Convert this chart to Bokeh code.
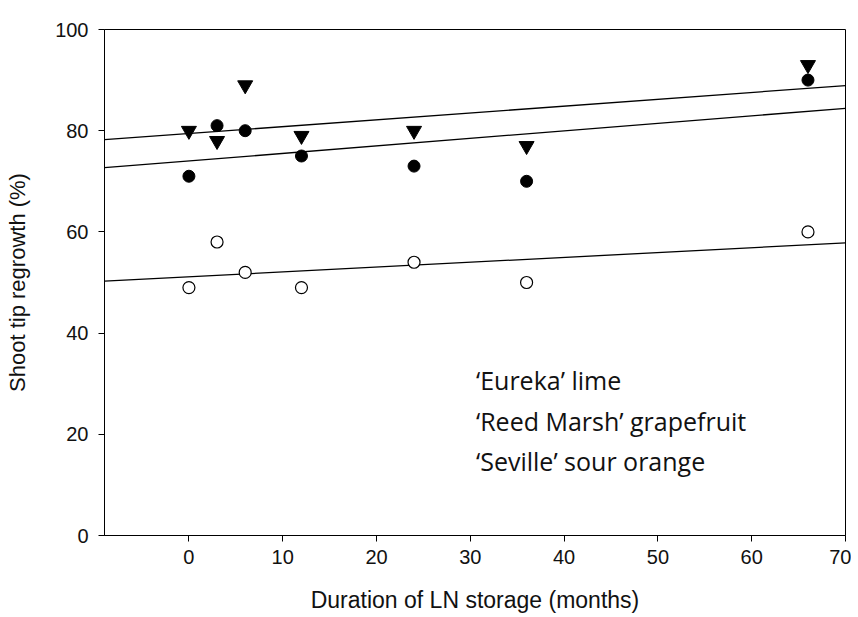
import numpy as np
from bokeh.plotting import figure
from bokeh.models import Range1d, FixedTicker, Label
from bokeh.embed import file_html
from bokeh.resources import INLINE

# Data
months = [0, 3, 6, 12, 24, 36, 66]
eureka_lime = [80, 78, 89, 79, 80, 77, 93]          # inverted triangles
reed_marsh = [71, 81, 80, 75, 73, 70, 90]           # filled circles
seville = [49, 58, 52, 49, 54, 50, 60]              # open circles
legend_labels = ["\u2018Eureka\u2019 lime", "\u2018Reed Marsh\u2019 grapefruit", "\u2018Seville\u2019 sour orange"]
x_ticks = [0, 10, 20, 30, 40, 50, 60, 70]
y_ticks = [0, 20, 40, 60, 80, 100]

X_MIN, X_MAX = -9, 70

p = figure(frame_width=741, frame_height=506, output_backend="svg", toolbar_location=None,
           x_range=Range1d(X_MIN, X_MAX), y_range=Range1d(0, 100),
           min_border_left=104, min_border_right=6, min_border_top=29, min_border_bottom=78)
p.background_fill_color = "white"
p.border_fill_color = "white"
p.outline_line_color = "black"
p.outline_line_width = 1
p.xgrid.visible = False
p.ygrid.visible = False

TICK_FONT = "Liberation Sans"
LABEL_FONT = "Liberation Sans"
for ax, ticks in ((p.xaxis, x_ticks), (p.yaxis, y_ticks)):
    ax.ticker = FixedTicker(ticks=ticks)
    ax.major_tick_out = 6
    ax.major_tick_in = 0
    ax.minor_tick_out = 0
    ax.minor_tick_in = 0
    ax.axis_line_color = "black"
    ax.major_tick_line_color = "black"
    ax.major_label_text_font = TICK_FONT
    ax.major_label_text_font_size = "20px"
    ax.major_label_text_color = "#111111"
    ax.axis_label_text_font = LABEL_FONT
    ax.axis_label_text_font_style = "normal"
    ax.axis_label_text_color = "#111111"

p.xaxis.axis_label = "Duration of LN storage (months)"
p.yaxis.axis_label = "Shoot tip regrowth (%)"
p.xaxis.axis_label_text_font_size = "23px"
p.yaxis.axis_label_text_font_size = "22px"
p.xaxis.major_label_standoff = 8
p.yaxis.major_label_standoff = 10
p.xaxis.axis_label_standoff = 20
p.yaxis.axis_label_standoff = 22

# Regression lines (least squares fits of each series)
xs_line = np.array([X_MIN, X_MAX], dtype=float)
for series in (eureka_lime, reed_marsh, seville):
    slope, intercept = np.polyfit(months, series, 1)
    p.line(xs_line, slope * xs_line + intercept, line_color="black", line_width=1.3)

p.scatter(months, eureka_lime, marker="inverted_triangle", size=15,
          fill_color="black", line_color="black")
p.scatter(months, reed_marsh, marker="circle", size=12,
          fill_color="black", line_color="black")
p.scatter(months, seville, marker="circle", size=12,
          fill_color="white", line_color="black", line_width=1.2)

label_y = [30.7, 22.7, 14.7]
for txt, ly in zip(legend_labels, label_y):
    p.add_layout(Label(x=30.6, y=ly, text=txt, text_font="Open Sans",
                       text_font_size="25px", text_baseline="middle",
                       text_color="#111111"))

open("out.html", "w").write(file_html(p, INLINE))
